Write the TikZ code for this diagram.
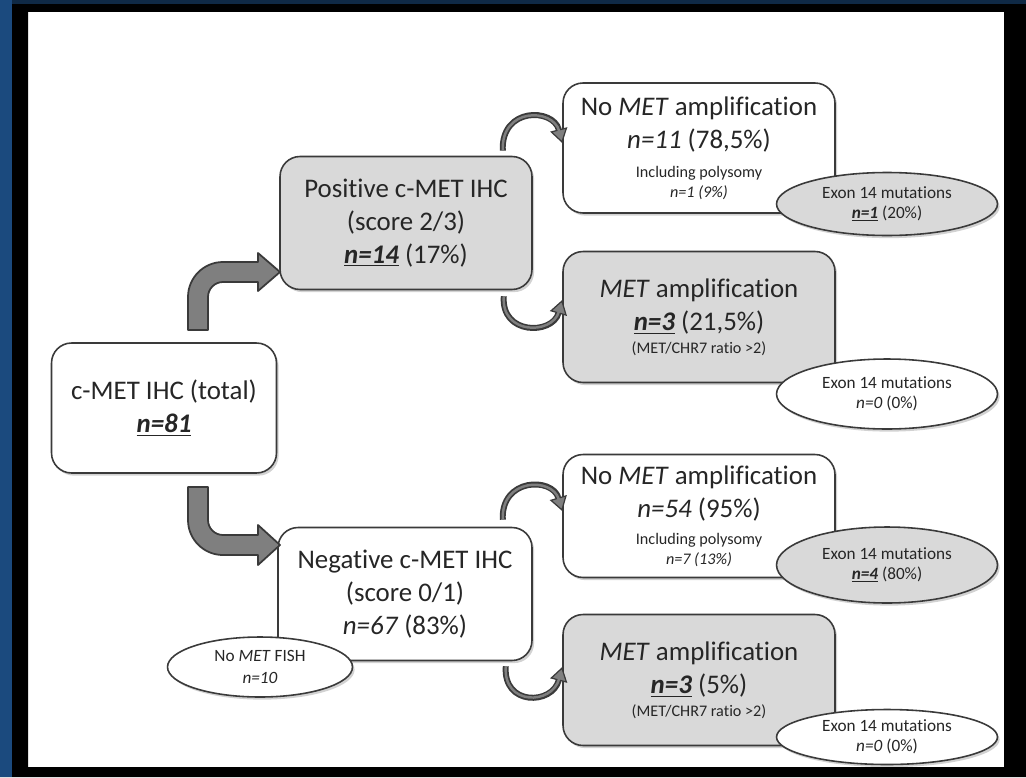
\documentclass[tikz,border=0pt]{standalone}
\usepackage{fontspec}
\setmainfont{Carlito}[Ligatures=NoCommon]
\usetikzlibrary{shapes.geometric,arrows.meta,shadows}

\definecolor{boxgray}{HTML}{D9D9D9}
\definecolor{linegray}{HTML}{3A3A3A}
\definecolor{arrowgray}{HTML}{7F7F7F}
\definecolor{frameblue}{HTML}{1B4A7E}

\newcommand{\bigtxt}{\fontsize{15.3}{18.7}\selectfont}
\newcommand{\smalltxt}{\fontsize{9.2}{11.3}\selectfont}
\newcommand{\elltxt}{\fontsize{9.8}{11.5}\selectfont}
\newcommand{\keyn}[1]{\underline{\textbf{\textit{#1}}}}

\tikzset{
  box/.style={draw=linegray, line width=0.9pt, rounded corners=0.4cm, align=center,
    inner sep=0pt, font=\bigtxt, text=black!85,
    drop shadow={shadow xshift=1.2pt, shadow yshift=-1.5pt, opacity=0.35}},
  whitebox/.style={box, fill=white},
  graybox/.style={box, fill=boxgray},
  bubble/.style={ellipse, draw=linegray, line width=0.9pt, align=center, inner sep=0pt,
    font=\elltxt, text=black!85,
    drop shadow={shadow xshift=1.2pt, shadow yshift=-1.5pt, opacity=0.35}},
  bentarrow/.style={fill=arrowgray, draw=linegray, line width=1pt, line join=round},
  hookline/.style={draw=linegray, line width=3.4pt,
    -{Triangle[length=8pt, width=10pt, line width=0.7pt, fill=arrowgray]}},
  hookcore/.style={draw=arrowgray, line width=1.4pt, shorten >=7pt}
}

\begin{document}
\begin{tikzpicture}[x=0.02cm, y=-0.02cm]
\useasboundingbox (0,0) rectangle (1026,777);
\fill[white] (28,12) rectangle (1004,767);

% main boxes
\node[whitebox, minimum width=4.5cm, minimum height=2.6cm] (total) at (164,408)
  {c-MET IHC (total)\\ \keyn{n=81}};
\node[graybox, minimum width=5.04cm, minimum height=2.66cm] (pos) at (406,223)
  {Positive c-MET IHC\\ (score 2/3)\\ \keyn{n=14} (17\%)};
\node[whitebox, minimum width=5.08cm, minimum height=2.66cm] (neg) at (405,594)
  {Negative c-MET IHC\\ (score 0/1)\\ \textit{n=67} (83\%)};

% FISH results
\node[whitebox, minimum width=5.44cm, minimum height=2.6cm] (noamp1) at (699,148)
  {No \textit{MET} amplification\\ \textit{n=11} (78,5\%)\\[-2pt]
   {\smalltxt Including polysomy}\\[-7.4pt] {\smalltxt\textit{n=1 (9\%)}}};
\node[graybox, minimum width=5.44cm, minimum height=2.62cm] (metamp1) at (699,317)
  {\textit{MET} amplification\\ \keyn{n=3} (21,5\%)\\[-5.7pt]
   {\smalltxt (MET/CHR7 ratio >2)}};
\node[whitebox, minimum width=5.44cm, minimum height=2.46cm] (noamp2) at (699,516)
  {No \textit{MET} amplification\\ \textit{n=54} (95\%)\\[-3.4pt]
   {\smalltxt Including polysomy}\\[-7.4pt] {\smalltxt\textit{n=7 (13\%)}}};
\node[graybox, minimum width=5.44cm, minimum height=2.62cm] (metamp2) at (699,680)
  {\textit{MET} amplification\\ \keyn{n=3} (5\%)\\[-5.7pt]
   {\smalltxt (MET/CHR7 ratio >2)}};

% exon 14 bubbles
\node[bubble, fill=boxgray, minimum width=4.42cm, minimum height=1.26cm] (exon1) at (887,204)
  {Exon 14 mutations\\ \keyn{n=1} (20\%)};
\node[bubble, fill=white, minimum width=4.42cm, minimum height=1.4cm] (exon2) at (887,394)
  {Exon 14 mutations\\ \textit{n=0} (0\%)};
\node[bubble, fill=boxgray, minimum width=4.42cm, minimum height=1.52cm] (exon3) at (887,565)
  {Exon 14 mutations\\ \keyn{n=4} (80\%)};
\node[bubble, fill=white, minimum width=4.42cm, minimum height=1.1cm] (exon4) at (887,737)
  {Exon 14 mutations\\ \textit{n=0} (0\%)};
\node[bubble, fill=white, minimum width=3.7cm, minimum height=1.2cm] (nofish) at (260,667)
  {No \textit{MET} FISH\\[1.5pt] \textit{n=10}};

% bent arrows
\draw[bentarrow] (188,330) -- (188,297) arc[start angle=180, end angle=270, radius=35]
  -- (258,262) -- (258,253) -- (280,272) -- (258,291) -- (258,282) -- (223,282)
  arc[start angle=270, end angle=180, radius=15] -- (208,330) -- cycle;
\draw[bentarrow] (188,487) -- (188,520) arc[start angle=180, end angle=90, radius=35]
  -- (258,555) -- (258,565) -- (280,545) -- (258,525) -- (258,535) -- (223,535)
  arc[start angle=90, end angle=180, radius=15] -- (208,487) -- cycle;

% hooks
\draw[hookline] ([xshift=-0.6cm, yshift=0.1cm]pos.north east) .. controls +(-2,-44) and +(-9,-35) .. ([yshift=0.1cm]noamp1.west);
\draw[hookcore] ([xshift=-0.6cm, yshift=0.1cm]pos.north east) .. controls +(-2,-44) and +(-9,-35) .. ([yshift=0.1cm]noamp1.west);
\draw[hookline] ([xshift=-0.58cm, yshift=-0.12cm]pos.south east) .. controls +(-3,39) and +(-10,35) .. ([yshift=0.34cm]metamp1.west);
\draw[hookcore] ([xshift=-0.58cm, yshift=-0.12cm]pos.south east) .. controls +(-3,39) and +(-10,35) .. ([yshift=0.34cm]metamp1.west);
\draw[hookline] ([xshift=-0.6cm, yshift=0.14cm]neg.north east) .. controls +(-2,-42) and +(-10,-34) .. ([yshift=0.1cm]noamp2.west);
\draw[hookcore] ([xshift=-0.6cm, yshift=0.14cm]neg.north east) .. controls +(-2,-42) and +(-10,-34) .. ([yshift=0.1cm]noamp2.west);
\draw[hookline] ([xshift=-0.54cm, yshift=-0.1cm]neg.south east) .. controls +(-3,40) and +(-10,38) .. ([yshift=0.26cm]metamp2.west);
\draw[hookcore] ([xshift=-0.54cm, yshift=-0.1cm]neg.south east) .. controls +(-3,40) and +(-10,38) .. ([yshift=0.26cm]metamp2.west);

% frame
\fill[black, even odd rule] (0,0) rectangle (1026,777) (28,12) rectangle (1004,767);
\fill[frameblue] (0,0) rectangle (12,777);
\fill[frameblue!55!black] (12,0) rectangle (1026,4);
\end{tikzpicture}
\end{document}
